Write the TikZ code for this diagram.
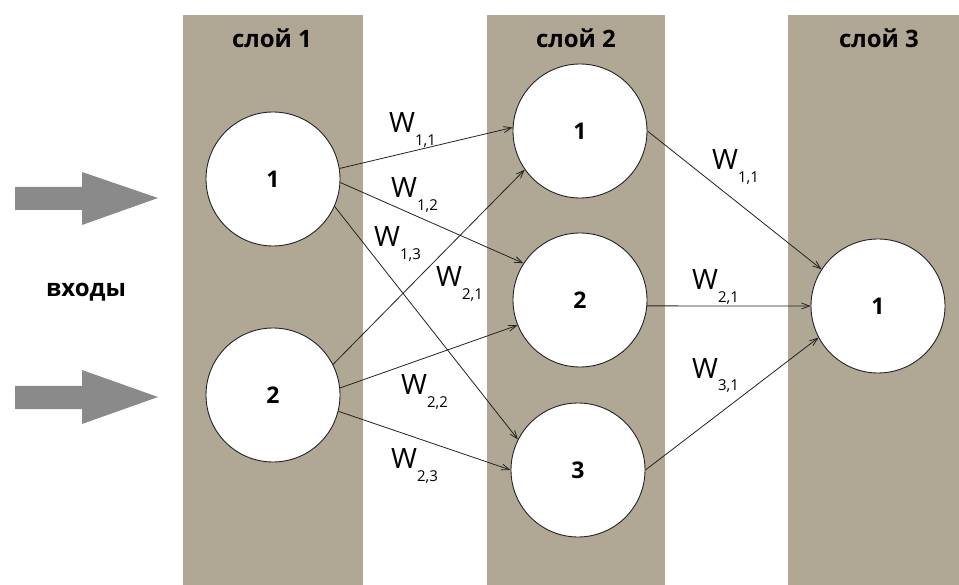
\documentclass[tikz,border=0pt]{standalone}
\usepackage{fontspec}
\setmainfont{Open Sans}
\usetikzlibrary{arrows.meta}

\definecolor{bandgray}{RGB}{176,168,148}
\definecolor{inputgray}{RGB}{138,138,138}
\definecolor{linegray}{RGB}{35,35,35}

\newcommand{\wlab}[1]{W\raisebox{-13pt}{\fontsize{15}{15}\selectfont #1}}

\begin{document}
\begin{tikzpicture}[x=1pt,y=-1pt,
	neuron/.style={circle,draw=linegray,line width=0.9pt,fill=white,
		minimum size=134pt,inner sep=0pt,font=\bfseries\fontsize{23}{27}\selectfont},
	title/.style={anchor=base,inner sep=0pt,font=\bfseries\fontsize{24}{28}\selectfont},
	weight/.style={anchor=base west,inner sep=0pt,font=\fontsize{28}{32}\selectfont},
	link/.style={draw=linegray,line width=0.8pt,-{Straight Barb[length=8pt,width=6pt]}}]
\useasboundingbox (0,0) rectangle (959,585);
\fill[white] (0,0) rectangle (959,585);

% layers
\fill[bandgray] (183,15) rectangle (363,585);
\fill[bandgray] (487,15) rectangle (665,585);
\fill[bandgray] (788,15) rectangle (959,585);

\node[title] (t1) at (272,48) {слой 1};
\node[title] (t2) at (576,48) {слой 2};
\node[title] (t3) at (879,48) {слой 3};

% inputs
\node[title] (inp) at (86,297) {входы};
\fill[inputgray] (15,187) -- (82,187) -- (82,172) -- (158,198) -- (82,225) -- (82,210) -- (15,210) -- cycle;
\fill[inputgray] (15,386) -- (82,386) -- (82,370) -- (158,397) -- (82,424) -- (82,409) -- (15,409) -- cycle;

% neurons
\node[neuron] (a1) at (273,179) {1};
\node[neuron] (a2) at (273,395) {2};
\node[neuron] (b1) at (580,131) {1};
\node[neuron] (b2) at (580,300) {2};
\node[neuron] (b3) at (578,470) {3};
\node[neuron] (c1) at (878,306) {1};

% layer 1 -> layer 2
\draw[link] (a1.9) -- (b1.177);
\draw[link] (a1.-3) -- (b2.147);
\draw[link] (a1.-24) -- (b3.153);
\draw[link] (a2.27) -- (b1.215);
\draw[link] (a2.6) -- (b2.202);
\draw[link] (a2.-14) -- (b3.180);

% layer 2 -> layer 3
\draw[link] (b1.0) -- (c1.147);
\draw[link] (b2.-5) -- (c1.180);
\draw[link] (b3.0) -- (c1.208);

% weights
\node[weight] (w11) at (389,133) {\wlab{1,1}};
\node[weight] (w12) at (391,198) {\wlab{1,2}};
\node[weight] (w13) at (374,247) {\wlab{1,3}};
\node[weight] (w21) at (436,287) {\wlab{2,1}};
\node[weight] (w22) at (401,395) {\wlab{2,2}};
\node[weight] (w23) at (391,468) {\wlab{2,3}};
\node[weight] (v11) at (712,170) {\wlab{1,1}};
\node[weight] (v21) at (692,290) {\wlab{2,1}};
\node[weight] (v31) at (692,378) {\wlab{3,1}};
\end{tikzpicture}
\end{document}
